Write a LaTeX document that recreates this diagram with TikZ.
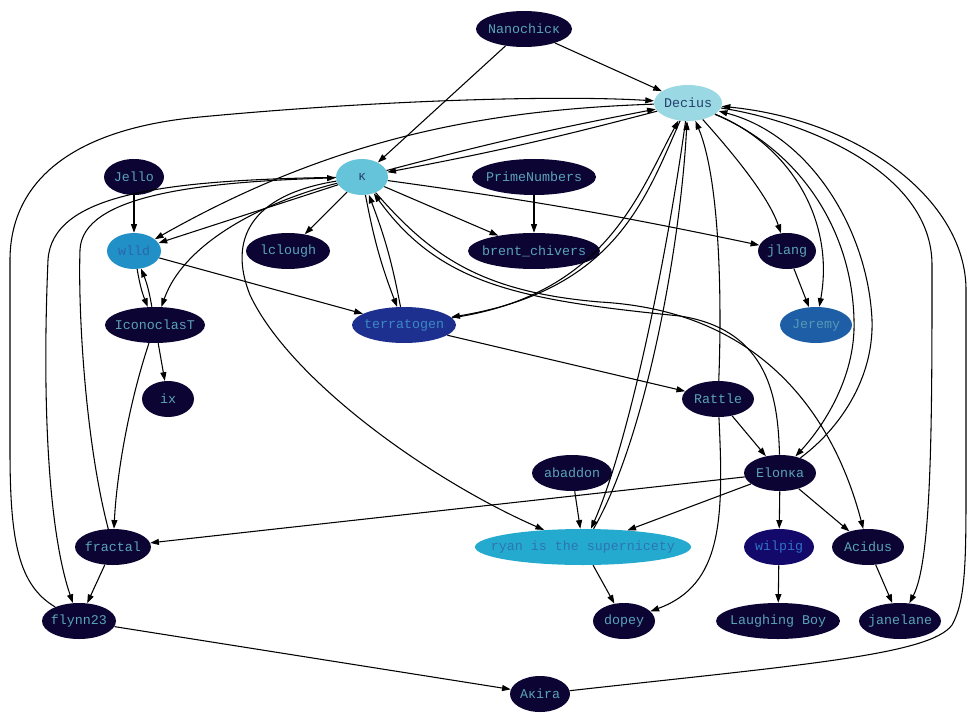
\documentclass[tikz,border=0pt]{standalone}
\usepackage{fontspec}
\newfontfamily\mono{Liberation Mono}
\usetikzlibrary{shapes.geometric,arrows.meta}
\definecolor{navy}{HTML}{0C0533}
\definecolor{tealc}{HTML}{5AA3B8}
\definecolor{deciusfill}{HTML}{9AD8E4}
\definecolor{deciustext}{HTML}{24406A}
\definecolor{kfill}{HTML}{66C4DA}
\definecolor{wlldfill}{HTML}{2190C6}
\definecolor{wlldtext}{HTML}{2A68A8}
\definecolor{terrafill}{HTML}{1E308F}
\definecolor{terratext}{HTML}{3B88C4}
\definecolor{jeremyfill}{HTML}{1E5EA6}
\definecolor{jeremytext}{HTML}{5599B5}
\definecolor{ryanfill}{HTML}{25AACF}
\definecolor{ryantext}{HTML}{2D74B5}
\definecolor{wilpigfill}{HTML}{13096A}
\definecolor{wilpigtext}{HTML}{2F6FC8}
\newcommand\lbl[1]{\makebox[0pt]{#1}}
\begin{document}
\begin{tikzpicture}[x=0.75pt,y=-0.75pt,
  nd/.style={ellipse, draw=none, inner sep=0pt, minimum height=27pt, font=\mono\fontsize{10pt}{12pt}\selectfont, text=tealc, fill=navy},
  ed/.style={draw=black, line width=0.8pt, -{Triangle[length=6.5pt,width=4.5pt]}}]
\useasboundingbox (0,0) rectangle (980,720);
\fill[white] (0,0) rectangle (980,720);
% nodes
\node[nd, minimum width=72pt] (nano) at (524,29) {\lbl{Nanochicκ}};
\node[nd, minimum width=51pt, fill=deciusfill, text=deciustext] (decius) at (688,103) {\lbl{Decius}};
\node[nd, minimum width=45pt] (jello) at (134,177) {\lbl{Jello}};
\node[nd, minimum width=39pt, fill=kfill, text=deciustext] (k) at (362,177) {\lbl{κ}};
\node[nd, minimum width=93pt] (prime) at (534,177) {\lbl{PrimeNumbers}};
\node[nd, minimum width=40.5pt, fill=wlldfill, text=wlldtext] (wlld) at (134,251) {\lbl{wlld}};
\node[nd, minimum width=63pt] (lclough) at (288,251) {\lbl{lclough}};
\node[nd, minimum width=99pt] (brent) at (534,251) {\lbl{brent\_chivers}};
\node[nd, minimum width=43.5pt] (jlang) at (787,251) {\lbl{jlang}};
\node[nd, minimum width=75pt] (icon) at (155,325) {\lbl{IconoclasT}};
\node[nd, minimum width=78pt, fill=terrafill, text=terratext] (terra) at (404,325) {\lbl{terratogen}};
\node[nd, minimum width=54pt, fill=jeremyfill, text=jeremytext] (jeremy) at (816,325) {\lbl{Jeremy}};
\node[nd, minimum width=39pt] (ix) at (168,399) {\lbl{ix}};
\node[nd, minimum width=54pt] (rattle) at (718,399) {\lbl{Rattle}};
\node[nd, minimum width=60pt] (abaddon) at (572,473) {\lbl{abaddon}};
\node[nd, minimum width=54pt] (elonka) at (780,473) {\lbl{Elonκa}};
\node[nd, minimum width=57pt] (fractal) at (113,547) {\lbl{fractal}};
\node[nd, minimum width=162pt, fill=ryanfill, text=ryantext] (ryan) at (583,547) {\lbl{ryan is the supernicety}};
\node[nd, minimum width=52.5pt, fill=wilpigfill, text=wilpigtext] (wilpig) at (779,547) {\lbl{wilpig}};
\node[nd, minimum width=54pt] (acidus) at (868,547) {\lbl{Acidus}};
\node[nd, minimum width=55.5pt] (flynn) at (79,621) {\lbl{flynn23}};
\node[nd, minimum width=46.5pt] (dopey) at (624,621) {\lbl{dopey}};
\node[nd, minimum width=93pt] (laughing) at (778,621) {\lbl{Laughing Boy}};
\node[nd, minimum width=61.5pt] (jane) at (900,621) {\lbl{janelane}};
\node[nd, minimum width=45pt] (akira) at (540,694) {\lbl{Aκira}};
% edges
\draw[ed] (nano) -- (decius);
\draw[ed] (nano) -- (k);
\draw[ed] (k) to[bend left=2] (decius);
\draw[ed] (decius) to[bend left=2] (k);
\draw[ed] (decius) .. controls (480,110) and (330,140) .. (wlld);
\draw[ed] (k) -- (wlld);
\draw[ed] (jello) -- (wlld);
\draw[ed] (wlld) to[bend right=6] (icon);
\draw[ed] (icon) to[bend right=6] (wlld);
\draw[ed] (wlld) -- (terra);
\draw[ed] (k) .. controls (270,200) and (185,240) .. (icon);
\draw[ed] (k) -- (lclough);
\draw[ed] (k) -- (brent);
\draw[ed] (prime) -- (brent);
\draw[ed] (k) to[bend left=2] (jlang);
\draw[ed] (k) to[bend right=5] (terra);
\draw[ed] (terra) to[bend right=5] (k);
\draw[ed] (fractal) .. controls (85,440) and (78,310) .. (80,250) .. controls (82,195) and (200,182) .. (k);
\draw[ed] (k) .. controls (160,180) and (52,195) .. (48,260) .. controls (42,400) and (48,530) .. (flynn);
\draw[ed] (icon) -- (ix);
\draw[ed] (icon) .. controls (130,400) and (117,470) .. (fractal);
\draw[ed] (fractal) -- (flynn);
\draw[ed] (flynn) -- (akira);
\draw[ed] (flynn) .. controls (18,585) and (10,540) .. (10,450) -- (10,260) .. controls (10,190) and (60,130) .. (200,117) .. controls (380,100) and (560,95) .. (decius);
\draw[ed] (akira) .. controls (800,665) and (930,655) .. (952,625) .. controls (966,600) and (966,560) .. (966,480) -- (966,290) .. controls (966,200) and (860,120) .. (decius);
\draw[ed] (decius) .. controls (800,120) and (932,170) .. (932,265) .. controls (932,420) and (932,560) .. (jane);
\draw[ed] (decius) .. controls (800,150) and (852,230) .. (854,320) .. controls (856,380) and (820,430) .. (elonka);
\draw[ed] (elonka) .. controls (838,430) and (874,380) .. (872,320) .. controls (868,230) and (810,135) .. (decius);
\draw[ed] (decius) .. controls (730,150) and (768,195) .. (jlang);
\draw[ed] (decius) .. controls (790,145) and (835,220) .. (jeremy);
\draw[ed] (jlang) -- (jeremy);
\draw[ed] (decius) .. controls (645,200) and (615,290) .. (terra);
\draw[ed] (terra) .. controls (605,295) and (638,195) .. (decius);
\draw[ed] (decius) .. controls (668,250) and (630,440) .. (ryan);
\draw[ed] (ryan) .. controls (645,440) and (680,250) .. (decius);
\draw[ed] (rattle) .. controls (722,300) and (720,180) .. (decius);
\draw[ed] (terra) -- (rattle);
\draw[ed] (rattle) -- (elonka);
\draw[ed] (rattle) .. controls (724,520) and (722,585) .. (dopey);
\draw[ed] (k) .. controls (250,195) and (228,240) .. (250,295) .. controls (290,380) and (430,480) .. (ryan);
\draw[ed] (elonka) .. controls (778,400) and (770,330) .. (680,316) .. controls (520,300) and (440,285) .. (k);
\draw[ed] (k) .. controls (430,255) and (480,292) .. (600,302) .. controls (780,312) and (840,440) .. (acidus);
\draw[ed] (abaddon) -- (ryan);
\draw[ed] (elonka) -- (ryan);
\draw[ed] (elonka) -- (fractal);
\draw[ed] (elonka) -- (wilpig);
\draw[ed] (elonka) -- (acidus);
\draw[ed] (wilpig) -- (laughing);
\draw[ed] (acidus) -- (jane);
\draw[ed] (ryan) -- (dopey);
\end{tikzpicture}
\end{document}
